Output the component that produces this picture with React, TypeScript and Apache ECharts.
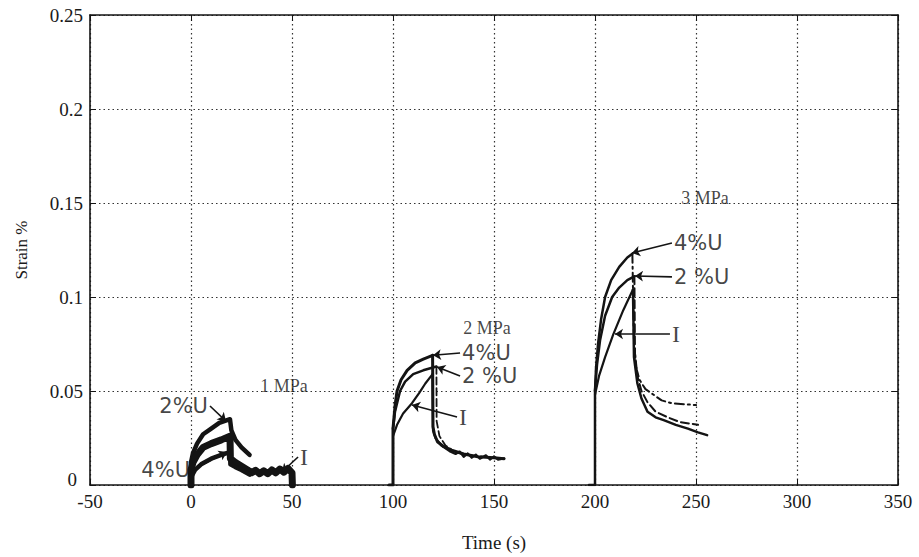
import { useEffect, useRef } from 'react';
import * as echarts from 'echarts';

// Axis ranges
const X_MIN = -50, X_MAX = 350, X_STEP = 50;
const Y_MIN = 0, Y_MAX = 0.25, Y_STEP = 0.05;

// ---- 1 MPa test (t, strain %) ----
const load1_2U = [[0, 0], [0, 0.012], [1, 0.017], [3, 0.022], [6, 0.027], [10, 0.030], [14, 0.033], [19.3, 0.035]];
const unload1_2U = [[19.3, 0.035], [20, 0.029], [22, 0.024], [25, 0.02], [29, 0.016]];
const load1_I = [[0, 0], [0, 0.008], [1, 0.012], [3, 0.016], [6, 0.02], [10, 0.022], [15, 0.024], [19.3, 0.026]];
const unload1_I = [[19.3, 0.026], [19.5, 0.014], [22, 0.012], [25, 0.010], [28, 0.008], [30, 0.0065], [32, 0.0078], [34, 0.006], [36, 0.0076], [38, 0.006], [40, 0.008], [42, 0.0065], [44, 0.0085], [46, 0.0068], [48, 0.0088], [50, 0.0065], [50.2, 0]];
const load1_4U = [[0, 0], [0, 0.004], [2, 0.008], [5, 0.011], [10, 0.014], [15, 0.016], [19.3, 0.0175]];
const unload1_4U = [[19.3, 0.0175], [19.5, 0.011], [22, 0.0095], [25, 0.008], [29, 0.0055]];

// ---- 2 MPa test ----
const load2_4U = [[98, 0], [100, 0], [100, 0.03], [101, 0.042], [102, 0.05], [104, 0.056], [107, 0.061], [111, 0.065], [115, 0.067], [119.6, 0.069]];
const unload2_4U = [[119.6, 0.069], [119.8, 0.031], [120.5, 0.027], [122, 0.023], [125, 0.0205], [129, 0.0185], [135, 0.0165], [142, 0.015], [150, 0.0145], [155, 0.014]];
const load2_2U = [[100, 0.03], [101, 0.039], [103.5, 0.05], [106, 0.055], [110, 0.059], [115, 0.061], [121.5, 0.063]];
const unload2_2U = [[121.5, 0.063], [121.6, 0.034], [123, 0.026], [126, 0.021], [130, 0.018], [136, 0.016], [145, 0.015], [154, 0.014]];
const load2_I = [[100, 0.026], [102, 0.032], [105, 0.038], [109.4, 0.0435], [113, 0.049], [116, 0.054], [119.6, 0.059]];
const unload2_I = [[119.6, 0.059], [119.8, 0.029], [121, 0.025], [124, 0.021], [128, 0.018], [131, 0.0165], [133, 0.0178], [135, 0.015], [137, 0.0168], [139, 0.0145], [141, 0.0162], [143, 0.014], [146, 0.0158], [148, 0.0135], [150, 0.0152], [152, 0.0135], [155, 0.0142]];

// ---- 3 MPa test ----
const load3_4U = [[197, 0], [200, 0], [200, 0.05], [200.5, 0.062], [201.5, 0.075], [203, 0.088], [205, 0.1], [208, 0.109], [212, 0.116], [216, 0.121], [218.5, 0.123]];
const unload3_4U = [[218.5, 0.123], [219.3, 0.075], [220.5, 0.062], [222, 0.056], [225, 0.051], [229, 0.048], [233, 0.045], [238, 0.0435], [244, 0.043], [250, 0.0425]];
const load3_2U = [[200, 0.05], [201, 0.064], [202.5, 0.077], [205, 0.09], [208.5, 0.1], [212, 0.105], [216, 0.109], [219.5, 0.111]];
const unload3_2U = [[219.5, 0.111], [219.8, 0.07], [221, 0.058], [223, 0.05], [226, 0.044], [230, 0.039], [236, 0.036], [242, 0.0335], [251, 0.032]];
const load3_I = [[200, 0.048], [202, 0.058], [205, 0.068], [209, 0.08], [214, 0.093], [218.8, 0.104]];
const unload3_I = [[218.8, 0.104], [219.3, 0.068], [221, 0.054], [223, 0.046], [226, 0.039], [230, 0.036], [234, 0.0345], [240, 0.032], [246, 0.030], [251, 0.028], [255.5, 0.0265]];

// ---- annotations: text, leader start (text anchor), arrow tip ----
const annoText = ['1 MPa', '2%U', '4%U', 'I', '2 MPa', '4%U', '2 %U', 'I', '3 MPa', '4%U', '2 %U', 'I'];
const annoAt = [[46, 0.0525], [9.4, 0.042], [0.5, 0.008], [53, 0.0149], [146.5, 0.0835], [133.2, 0.0702], [133.2, 0.058], [131.7, 0.0362], [254.5, 0.1527], [238.1, 0.1287], [238.1, 0.1107], [237.1, 0.0803]];
const annoTip = [null, [17.3, 0.034], [17.8, 0.0176], [45, 0.0069], null, [119.8, 0.069], [121.8, 0.0628], [109.4, 0.0426], null, [218.3, 0.1234], [219.8, 0.1112], [209.9, 0.0803]];
const annoSide = ['center', 'left', 'left', 'right', 'center', 'right', 'right', 'right', 'center', 'right', 'right', 'right'];

const SERIF = '"Liberation Serif", "DejaVu Serif", serif';
const SANS = '"DejaVu Sans", "Liberation Sans", sans-serif';
const INK = '#141414';
const DASHDOT = [9, 4, 2, 4];

type Curve = { name: string; data: number[][]; width: number; type: any };
const curves: Curve[] = [
  { name: '2%U 1 MPa', data: [...load1_2U, ...unload1_2U.slice(1)], width: 4.5, type: 'solid' },
  { name: 'I 1 MPa', data: [...load1_I, ...unload1_I.slice(1)], width: 7, type: 'solid' },
  { name: '4%U 1 MPa', data: [...load1_4U, ...unload1_4U.slice(1)], width: 4.5, type: 'solid' },
  { name: '4%U 2 MPa', data: load2_4U, width: 3, type: 'solid' },
  { name: '4%U 2 MPa unloading', data: unload2_4U, width: 3, type: 'solid' },
  { name: '2%U 2 MPa', data: load2_2U, width: 2.5, type: 'solid' },
  { name: '2%U 2 MPa unloading', data: unload2_2U, width: 1.8, type: 'dashed' },
  { name: 'I 2 MPa', data: load2_I, width: 2.2, type: 'solid' },
  { name: 'I 2 MPa unloading', data: unload2_I, width: 2.2, type: 'solid' },
  { name: '4%U 3 MPa', data: load3_4U, width: 2.5, type: 'solid' },
  { name: '4%U 3 MPa unloading', data: unload3_4U, width: 2, type: DASHDOT },
  { name: '2%U 3 MPa', data: load3_2U, width: 2.5, type: 'solid' },
  { name: '2%U 3 MPa unloading', data: unload3_2U, width: 2, type: 'dashed' },
  { name: 'I 3 MPa', data: load3_I, width: 2.2, type: 'solid' },
  { name: 'I 3 MPa unloading', data: unload3_I, width: 2.5, type: 'solid' },
];

export default function App() {
  const ref = useRef<HTMLDivElement>(null);
  useEffect(() => {
    if (!ref.current) return;
    const chart = echarts.init(ref.current, undefined, { renderer: 'svg' });

    const axisLine = { show: true, onZero: false, lineStyle: { color: INK, width: 1.6 } };
    const grid = { show: true, lineStyle: { color: '#333', width: 1.2, type: [1.5, 3] as any } };
    const tickLabel = { fontFamily: SERIF, fontSize: 19, color: '#1a1a1a' };

    const lineSeries = curves.map((c) => ({
      name: c.name,
      type: 'line',
      data: c.data,
      showSymbol: false,
      symbol: 'none',
      smooth: false,
      z: 3,
      lineStyle: { color: INK, width: c.width, type: c.type, join: 'round', cap: 'round' },
    }));

    const leaderData = annoText
      .map((t, i) => (annoTip[i] ? { coords: [annoAt[i], annoTip[i]] } : null))
      .filter((d) => d);

    const textData = annoText.map((t, i) => {
      const isMPa = annoSide[i] === 'center';
      const isI = t === 'I';
      return {
        value: annoAt[i],
        label: {
          show: true,
          formatter: t,
          position: isMPa ? 'inside' : annoSide[i] === 'right' ? 'right' : 'left',
          distance: 2,
          fontFamily: isMPa || isI ? SERIF : SANS,
          fontSize: isMPa ? 18 : isI ? 24 : 21,
          color: INK,
        },
      };
    });

    chart.setOption({
      animation: false,
      backgroundColor: '#ffffff',
      grid: { left: 90, right: 21, top: 15, bottom: 72 },
      xAxis: [
        {
          type: 'value', min: X_MIN, max: X_MAX, interval: X_STEP,
          name: 'Time (s)', nameLocation: 'middle', nameGap: 48,
          nameTextStyle: { fontFamily: SERIF, fontSize: 19, color: '#1a1a1a' },
          axisLine, axisTick: { show: true, inside: true, length: 6, lineStyle: { color: INK } },
          axisLabel: { ...tickLabel, margin: 7 },
          splitLine: grid,
        },
        {
          type: 'value', position: 'top', min: X_MIN, max: X_MAX, interval: X_STEP,
          axisLine, axisTick: { show: true, inside: true, length: 6, lineStyle: { color: INK } },
          axisLabel: { show: false }, splitLine: { show: false },
        },
      ],
      yAxis: [
        {
          type: 'value', min: Y_MIN, max: Y_MAX, interval: Y_STEP,
          name: 'Strain %', nameLocation: 'middle', nameGap: 60,
          nameTextStyle: { fontFamily: SERIF, fontSize: 17, color: '#1a1a1a' },
          axisLine, axisTick: { show: true, inside: true, length: 6, lineStyle: { color: INK } },
          axisLabel: {
            ...tickLabel, margin: 7,
            formatter: (v: number) => (v === 0 ? '{z|0}' : String(+v.toFixed(2))),
            rich: { z: { fontFamily: SERIF, fontSize: 19, color: '#1a1a1a', padding: [0, 6, 12, 0] } },
          },
          splitLine: grid,
        },
        {
          type: 'value', position: 'right', min: Y_MIN, max: Y_MAX, interval: Y_STEP,
          axisLine, axisTick: { show: true, inside: true, length: 6, lineStyle: { color: INK } },
          axisLabel: { show: false }, splitLine: { show: false },
        },
      ],
      series: [
        ...lineSeries,
        {
          name: 'leaders',
          type: 'lines',
          coordinateSystem: 'cartesian2d',
          xAxisIndex: 0, yAxisIndex: 0,
          symbol: ['none', 'arrow'],
          symbolSize: 8,
          z: 4,
          lineStyle: { color: INK, width: 1.6, opacity: 1, curveness: 0 },
          data: leaderData,
        },
        {
          name: 'labels',
          type: 'scatter',
          symbolSize: 0,
          z: 5,
          silent: true,
          data: textData,
        },
      ],
    });
    return () => chart.dispose();
  }, []);
  return <div ref={ref} style={{ position: 'fixed', left: 0, top: 0, width: 919, height: 557 }} />;
}
